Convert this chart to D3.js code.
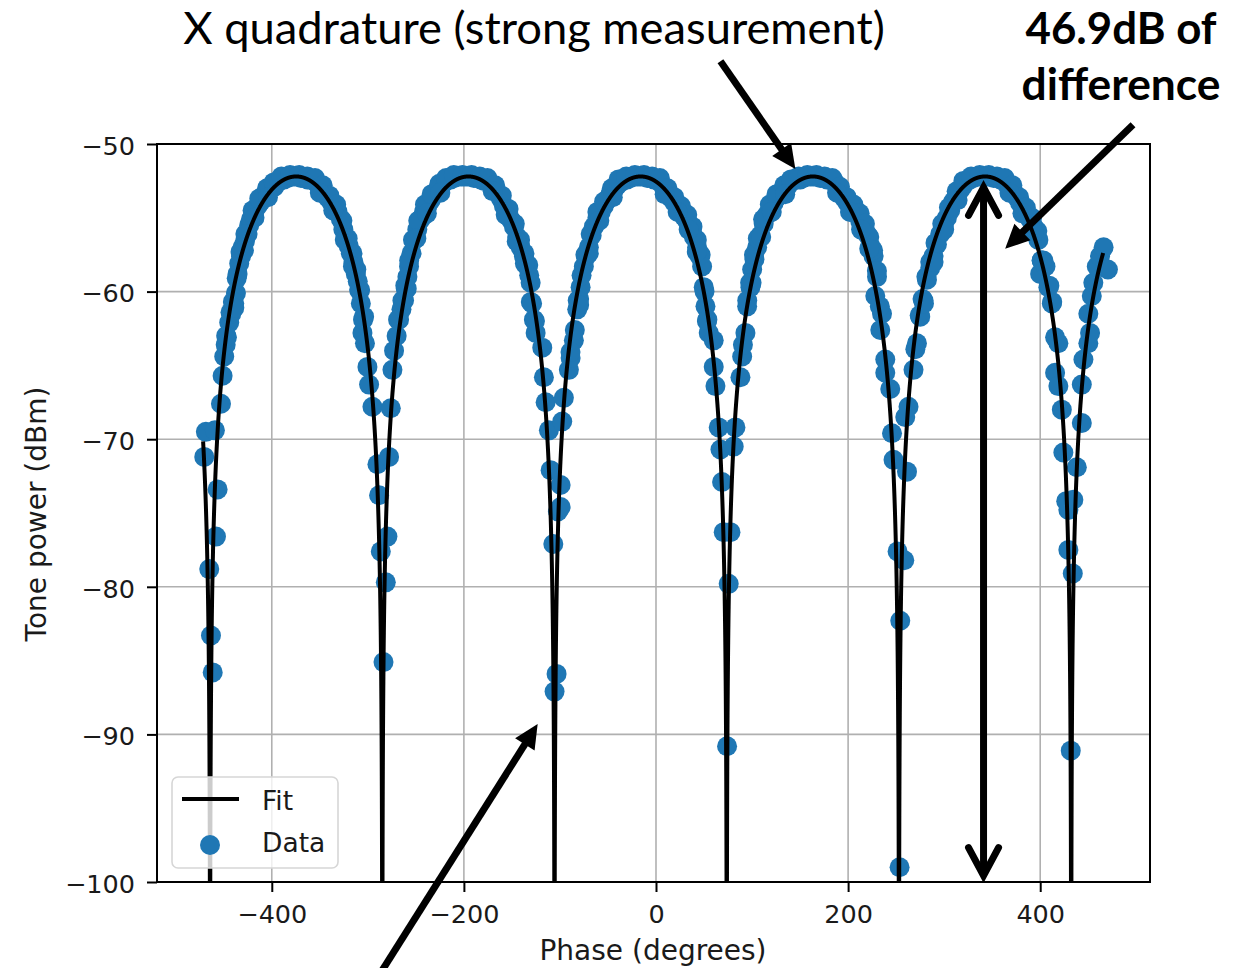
<!DOCTYPE html>
<html>
<head>
<meta charset="utf-8">
<script src="https://cdn.jsdelivr.net/npm/d3@7"></script>
<style>
  html, body { margin: 0; padding: 0; background: #ffffff; }
  svg { display: block; }
</style>
</head>
<body>
<svg id="chart" width="1253" height="968"></svg>
<script>
// Measured tone power while sweeping the phase: [phase (degrees), power (dBm)]
const measured = [
  [-470.3, -71.2], [-468.6, -69.5],
  [-465.1, -78.8], [-463.3, -83.3], [-461.5, -85.8], [-459.2, -69.4], [-458.1, -76.6], [-456.4, -73.4],
  [-452.9, -67.6], [-451.2, -65.7], [-449.5, -64.4], [-448.0, -63.6], [-446.7, -63.1], [-444.3, -62.1],
  [-442.2, -61.5], [-439.1, -60.8], [-437.3, -60.1], [-435.6, -58.8], [-433.9, -58.1], [-432.0, -57.6],
  [-430.4, -57.0], [-428.0, -56.6], [-425.2, -56.1], [-423.5, -55.5], [-421.7, -55.1], [-418.5, -54.7],
  [-414.8, -54.2], [-411.5, -53.9], [-407.9, -53.6], [-404.5, -53.3], [-401.0, -53.0], [-397.5, -52.9],
  [-394.0, -52.6], [-390.5, -52.4], [-387.1, -52.4], [-383.5, -52.3], [-380.0, -52.2], [-376.7, -52.2],
  [-373.0, -52.2], [-369.5, -52.3], [-366.0, -52.3], [-362.8, -52.4], [-359.5, -52.4], [-356.0, -52.5],
  [-352.4, -52.7], [-349.0, -53.0], [-345.5, -53.3], [-342.0, -53.6], [-338.5, -53.9], [-335.1, -54.2],
  [-331.5, -54.6], [-328.1, -55.1], [-325.5, -55.8], [-322.9, -56.5], [-320.0, -56.9], [-317.7, -57.4],
  [-315.0, -58.0], [-312.5, -58.8], [-310.5, -59.3], [-309.1, -59.9], [-307.3, -60.8], [-303.9, -61.7],
  [-305.6, -62.8], [-303.0, -63.5], [-300.4, -65.1], [-298.7, -66.3], [-295.2, -67.8], [-290.0, -71.7],
  [-288.3, -73.8], [-286.5, -77.6], [-283.7, -85.1], [-281.3, -79.7], [-279.6, -76.6], [-277.9, -71.2],
  [-276.1, -67.9], [-274.4, -65.3], [-272.7, -64.0], [-270.0, -63.0], [-267.5, -61.9], [-265.0, -61.2],
  [-262.3, -60.6], [-260.5, -59.8], [-258.8, -59.0], [-257.1, -58.3], [-254.5, -57.4], [-251.9, -56.5],
  [-248.5, -55.8], [-244.9, -55.1], [-241.5, -54.6], [-238.0, -54.2], [-234.5, -53.8], [-231.0, -53.4],
  [-227.5, -53.1], [-224.1, -52.9], [-220.5, -52.6], [-217.0, -52.4], [-213.7, -52.4], [-210.0, -52.3],
  [-206.5, -52.2], [-203.0, -52.2], [-199.9, -52.2], [-196.5, -52.2], [-193.0, -52.2], [-189.5, -52.3],
  [-186.0, -52.3], [-182.5, -52.4], [-179.0, -52.5], [-175.5, -52.5], [-172.0, -52.7], [-168.7, -52.9],
  [-165.0, -53.3], [-161.5, -53.7], [-158.3, -54.2], [-155.0, -54.6], [-151.5, -55.1], [-147.9, -55.6],
  [-144.5, -56.3], [-140.9, -57.0], [-137.5, -57.6], [-134.0, -58.3], [-132.0, -58.9], [-130.5, -59.4],
  [-130.3, -60.7], [-127.1, -61.9], [-125.3, -62.8], [-118.4, -63.8], [-116.7, -65.8], [-114.9, -67.5],
  [-111.5, -69.4], [-109.7, -72.1], [-106.9, -77.1], [-105.6, -87.1], [-103.5, -85.9], [-102.1, -74.9],
  [-99.3, -73.1], [-99.3, -74.6], [-97.6, -68.8], [-95.9, -67.2], [-90.7, -65.3], [-88.9, -64.5],
  [-85.5, -63.3], [-82.0, -61.2], [-80.0, -60.5], [-78.5, -59.7], [-75.1, -58.3], [-72.5, -57.6],
  [-69.9, -57.0], [-67.0, -56.2], [-64.7, -55.6], [-61.0, -55.0], [-57.5, -54.6], [-54.3, -54.2],
  [-51.0, -53.8], [-47.5, -53.4], [-43.9, -53.1], [-40.5, -52.8], [-37.0, -52.6], [-33.5, -52.4],
  [-30.0, -52.4], [-26.5, -52.3], [-23.0, -52.2], [-19.5, -52.2], [-16.1, -52.2], [-12.5, -52.2],
  [-9.0, -52.3], [-5.5, -52.3], [-2.3, -52.4], [1.0, -52.4], [4.5, -52.6], [8.0, -52.9],
  [11.6, -53.3], [15.0, -53.6], [18.5, -53.9], [22.0, -54.2], [25.5, -54.5], [29.0, -54.9],
  [32.5, -55.2], [35.9, -55.6], [39.5, -56.3], [42.8, -57.0], [45.5, -57.6], [48.0, -58.3],
  [49.7, -59.7], [51.5, -61.0], [53.0, -62.0], [54.9, -62.8], [60.1, -63.3], [60.1, -65.1],
  [61.9, -66.4], [65.3, -69.2], [67.1, -70.7], [68.8, -72.9], [70.5, -76.3], [74.0, -90.8],
  [75.7, -79.8], [77.5, -76.3], [80.9, -70.5], [82.7, -69.2], [87.9, -65.8], [89.7, -64.4],
  [93.1, -62.8], [94.9, -61.0], [98.3, -59.7], [100.1, -58.5], [102.5, -57.8], [105.3, -57.0],
  [108.5, -56.2], [112.1, -55.4], [115.5, -54.8], [119.0, -54.4], [122.5, -54.0], [126.0, -53.6],
  [129.5, -53.3], [133.0, -53.1], [136.5, -52.9], [140.0, -52.6], [143.5, -52.4], [147.0, -52.4],
  [150.3, -52.4], [153.5, -52.3], [157.0, -52.2], [160.7, -52.2], [164.1, -52.2], [167.5, -52.2],
  [171.0, -52.3], [174.5, -52.3], [178.0, -52.4], [181.5, -52.4], [185.0, -52.5], [188.5, -52.9],
  [192.0, -53.3], [195.3, -53.6], [198.5, -53.9], [202.0, -54.2], [205.5, -54.4], [209.3, -54.7],
  [212.5, -55.2], [216.0, -55.6], [219.7, -56.1], [223.0, -56.9], [226.5, -57.6], [230.1, -59.0],
  [228.3, -60.3], [235.3, -61.5], [233.5, -62.6], [238.7, -64.6], [238.7, -65.5], [243.9, -66.6],
  [245.7, -69.6], [247.3, -71.4], [251.5, -77.6], [253.6, -99.0], [254.3, -82.3], [258.5, -78.2],
  [261.3, -72.2], [259.5, -68.5], [262.9, -67.8], [268.1, -65.3], [271.7, -63.5], [275.1, -61.7],
  [278.5, -60.6], [282.1, -59.2], [285.5, -58.4], [288.9, -57.6], [292.5, -56.8], [295.9, -56.1],
  [299.5, -55.5], [302.9, -55.0], [306.3, -54.5], [309.5, -53.9], [313.0, -53.5], [316.7, -53.1],
  [320.0, -52.8], [323.5, -52.5], [327.0, -52.4], [330.5, -52.3], [334.1, -52.2], [337.5, -52.2],
  [341.0, -52.2], [344.5, -52.2], [347.9, -52.2], [351.5, -52.3], [355.0, -52.3], [358.5, -52.4],
  [361.7, -52.4], [365.0, -52.7], [368.5, -52.9], [372.0, -53.2], [375.7, -53.6], [379.0, -54.0],
  [382.5, -54.4], [386.0, -54.7], [389.5, -55.1], [393.0, -55.6], [395.5, -56.0], [398.1, -56.5],
  [403.3, -57.9], [399.9, -58.8], [408.5, -59.7], [412.1, -60.8], [415.5, -63.1], [418.9, -63.5],
  [415.5, -65.5], [418.9, -66.4], [422.5, -68.0], [424.1, -70.9], [427.1, -74.2], [429.3, -74.8],
  [429.3, -77.5], [431.8, -91.1], [433.9, -79.1], [434.5, -74.1], [438.1, -71.9], [443.3, -68.9],
  [443.3, -66.3], [445.0, -64.6], [450.1, -63.5], [451.9, -62.8], [450.1, -61.5], [453.7, -60.3],
  [455.3, -59.4], [458.9, -58.3], [462.3, -57.6], [466.0, -57.0], [470.5, -58.5]
];

// Repeat-sweep points lying just either side of the main trace
const measuredRepeat = [
  [-447.5, -63.0], [-443.0, -61.4], [-440.5, -60.7], [-436.5, -59.1], [-432.5, -57.3], [-427.5, -56.1],
  [-420.0, -54.5], [-413.0, -53.7], [-405.0, -53.0], [-398.0, -52.6], [-390.0, -52.2], [-381.0, -52.1],
  [-371.5, -52.1], [-363.0, -52.2], [-355.0, -52.3], [-347.0, -52.8], [-340.0, -53.5], [-333.0, -54.1],
  [-326.5, -55.2], [-321.0, -56.4], [-316.0, -57.4], [-312.0, -58.5], [-308.0, -59.9], [-305.0, -61.9],
  [-439.0, -61.1], [-429.0, -57.2], [-418.0, -55.0], [-404.0, -53.6], [-350.0, -53.3], [-336.0, -54.5],
  [-324.0, -56.5], [-315.5, -58.3],
  [-268.5, -61.9], [-264.0, -60.6], [-261.0, -59.6], [-257.0, -57.9], [-253.0, -56.5], [-247.5, -55.2],
  [-240.5, -54.1], [-233.5, -53.4], [-225.5, -52.7], [-218.5, -52.3], [-210.5, -52.1], [-201.5, -52.1],
  [-192.0, -52.1], [-183.5, -52.2], [-175.5, -52.3], [-167.5, -52.8], [-160.5, -53.5], [-153.5, -54.4],
  [-147.0, -55.4], [-141.5, -56.5], [-137.0, -57.4], [-133.0, -58.2], [-129.0, -60.8], [-126.0, -62.0],
  [-259.5, -59.8], [-249.5, -56.4], [-238.5, -54.7], [-224.5, -53.3], [-170.0, -53.2], [-156.5, -54.8],
  [-145.0, -56.6], [-136.5, -58.1],
  [-89.0, -64.1], [-84.5, -62.6], [-81.5, -60.6], [-77.5, -58.9], [-73.5, -57.5], [-68.0, -56.1],
  [-61.0, -54.6], [-54.0, -53.9], [-46.0, -53.0], [-39.0, -52.4], [-31.0, -52.2], [-22.0, -52.1],
  [-12.5, -52.1], [-4.0, -52.2], [4.0, -52.3], [12.0, -53.0], [19.0, -53.6], [26.0, -54.2],
  [32.5, -54.8], [38.0, -55.6], [42.5, -56.5], [46.5, -57.5], [50.5, -60.0], [53.5, -61.9],
  [-80.0, -60.9], [-70.0, -57.4], [-59.0, -55.2], [-45.0, -53.6], [9.0, -53.4], [22.5, -54.6],
  [34.0, -55.8], [42.5, -57.3],
  [90.5, -63.6], [95.0, -60.6], [98.0, -59.4], [102.0, -57.5], [106.0, -56.4], [111.5, -55.1],
  [118.5, -54.1], [125.5, -53.4], [133.5, -52.8], [140.5, -52.4], [148.5, -52.2], [157.5, -52.1],
  [167.0, -52.1], [175.5, -52.2], [183.5, -52.3], [191.5, -52.9], [198.5, -53.6], [205.5, -54.1],
  [212.0, -54.7], [217.5, -55.4], [222.0, -56.3], [226.0, -57.2], [230.0, -58.6], [233.0, -61.0],
  [99.5, -59.4], [109.5, -56.3], [120.5, -54.6], [134.5, -53.4], [188.5, -53.3], [202.0, -54.6],
  [213.5, -55.8], [222.0, -57.1],
  [270.0, -63.9], [274.5, -61.6], [277.5, -60.5], [281.5, -59.0], [285.5, -58.0], [291.0, -56.7],
  [298.0, -55.4], [305.0, -54.3], [313.0, -53.2], [320.0, -52.5], [328.0, -52.2], [337.0, -52.1],
  [346.5, -52.1], [355.0, -52.2], [363.0, -52.3], [371.0, -52.8], [378.0, -53.6], [385.0, -54.3],
  [391.5, -55.0], [397.0, -55.9], [401.5, -57.9], [405.5, -58.3], [409.5, -59.6], [412.5, -60.7],
  [279.0, -60.8], [289.0, -58.0], [300.0, -55.8], [314.0, -53.8], [368.0, -53.3], [381.5, -54.7],
  [393.0, -56.0], [401.5, -57.9]
];

// Fitted model: power = peak + 20·log10|cos(π·(phase − peakPhase)/period)|
const fitPeakDbm = -52.2;
const fitPeriodDeg = 179.3;
const fitPeakPhase = -16.0;
const fitPhaseRange = [-471.5, 465.5];

const xTicks = [-400, -200, 0, 200, 400];
const yTicks = [-100, -90, -80, -70, -60, -50];
const legendLabels = ["Fit", "Data"];
const titleText = "X quadrature (strong measurement)";
const noteLines = ["46.9dB of", "difference"];

// Annotation arrows, in data units (phase, dBm)
const arrowPeak = { from: [67.1, -44.4], to: [145.1, -51.7] };
const arrowNote = { from: [496.6, -48.7], to: [363.5, -57.1] };
const arrowNull = { from: [-292.0, -106.7], to: [-123.2, -89.3] };
const spanPhase = 341.0;
const spanTopDbm = -52.8;
const spanDb = 46.9;

const svg = d3.select("#chart");
const W = 1253, H = 968;
const plot = { left: 157, right: 1150, top: 144, bottom: 882 };

const x = d3.scaleLinear().domain([-519.5, 514.3]).range([plot.left, plot.right]);
const y = d3.scaleLinear().domain([-100, -50]).range([plot.bottom, plot.top]);

const tickFont = "'DejaVu Sans', sans-serif";
const tickSize = 25.5;
const labelSize = 28;
const blue = "#1f77b4";
const ink = "#1a1a1a";

svg.append("rect").attr("width", W).attr("height", H).attr("fill", "#ffffff");

svg.append("defs").append("clipPath").attr("id", "plotClip")
  .append("rect")
  .attr("x", plot.left).attr("y", plot.top)
  .attr("width", plot.right - plot.left).attr("height", plot.bottom - plot.top);

// grid
const grid = svg.append("g").attr("class", "grid");
grid.selectAll("line.gx").data(xTicks).join("line")
  .attr("x1", d => x(d)).attr("x2", d => x(d))
  .attr("y1", plot.top).attr("y2", plot.bottom)
  .attr("stroke", "#b0b0b0").attr("stroke-width", 1.6);
grid.selectAll("line.gy").data(yTicks).join("line")
  .attr("x1", plot.left).attr("x2", plot.right)
  .attr("y1", d => y(d)).attr("y2", d => y(d))
  .attr("stroke", "#b0b0b0").attr("stroke-width", 1.6);

const inner = svg.append("g").attr("clip-path", "url(#plotClip)");

// data points
inner.append("g").selectAll("circle").data(measured.concat(measuredRepeat)).join("circle")
  .attr("cx", d => x(d[0])).attr("cy", d => y(d[1]))
  .attr("r", 10).attr("fill", blue);

// fit curve, sampled finely so the nulls reach below the axis
function fitValue(p) {
  const c = Math.abs(Math.cos(Math.PI * (p - fitPeakPhase) / fitPeriodDeg));
  return c < 1e-7 ? -140 : Math.max(-140, fitPeakDbm + 20 * Math.log10(c));
}
const fitPts = [];
for (let p = fitPhaseRange[0]; p <= fitPhaseRange[1]; p += 0.02) fitPts.push([p, fitValue(p)]);
for (let k = -3; k <= 3; k++) {
  const pn = fitPeakPhase + fitPeriodDeg * (k + 0.5);
  if (pn > fitPhaseRange[0] && pn < fitPhaseRange[1]) fitPts.push([pn, -140]);
}
fitPts.sort((a, b) => a[0] - b[0]);
inner.append("path")
  .datum(fitPts)
  .attr("d", d3.line().x(d => x(d[0])).y(d => y(d[1])))
  .attr("fill", "none").attr("stroke", "#000").attr("stroke-width", 4)
  .attr("stroke-linejoin", "round");

// frame
svg.append("rect")
  .attr("x", plot.left).attr("y", plot.top)
  .attr("width", plot.right - plot.left).attr("height", plot.bottom - plot.top)
  .attr("fill", "none").attr("stroke", "#000").attr("stroke-width", 2);

// axes
const xAxis = svg.append("g").attr("transform", `translate(0,${plot.bottom})`)
  .call(d3.axisBottom(x).tickValues(xTicks).tickSize(10).tickPadding(6).tickSizeOuter(0));
const yAxis = svg.append("g").attr("transform", `translate(${plot.left},0)`)
  .call(d3.axisLeft(y).tickValues(yTicks).tickSize(10).tickPadding(12).tickSizeOuter(0));
[xAxis, yAxis].forEach(g => {
  g.select(".domain").remove();
  g.selectAll(".tick line").attr("stroke", "#000").attr("stroke-width", 2);
  g.selectAll(".tick text").attr("fill", ink).style("font-family", tickFont).style("font-size", tickSize + "px");
});
xAxis.selectAll(".tick text").attr("y", 41).attr("dy", 0);
yAxis.selectAll(".tick text").attr("dy", "0.4em");

// axis titles
svg.append("text").text("Phase (degrees)")
  .attr("x", 653).attr("y", 960).attr("text-anchor", "middle")
  .attr("fill", ink).style("font-family", tickFont).style("font-size", labelSize + "px");
svg.append("text").text("Tone power (dBm)")
  .attr("transform", "translate(46,514) rotate(-90)").attr("text-anchor", "middle")
  .attr("fill", ink).style("font-family", tickFont).style("font-size", labelSize + "px");

// legend
const lg = svg.append("g");
lg.append("rect").attr("x", 172).attr("y", 777).attr("width", 166).attr("height", 91)
  .attr("rx", 6).attr("fill", "#fff").attr("fill-opacity", 0.8)
  .attr("stroke", "#d6d6d6").attr("stroke-width", 1.6);
lg.append("line").attr("x1", 182).attr("x2", 239).attr("y1", 799).attr("y2", 799)
  .attr("stroke", "#000").attr("stroke-width", 4);
lg.append("circle").attr("cx", 210).attr("cy", 845).attr("r", 10).attr("fill", blue);
lg.selectAll("text").data(legendLabels).join("text")
  .text(d => d).attr("x", 262).attr("y", (d, i) => 810 + i * 42)
  .attr("fill", ink).style("font-family", tickFont).style("font-size", "26.5px");

// annotations
const annoFont = "Lato, 'Open Sans', sans-serif";
function fitWidth(sel, target) {
  const w = sel.node().getComputedTextLength();
  const fs = parseFloat(sel.style("font-size"));
  sel.style("font-size", (fs * target / w) + "px");
}
const title = svg.append("text").text(titleText)
  .attr("x", 534).attr("y", 44).attr("text-anchor", "middle")
  .attr("fill", "#000").style("font-family", annoFont).style("font-size", "40px");
fitWidth(title, 702);

const note = svg.append("g");
noteLines.forEach((t, i) => {
  const tx = note.append("text").text(t)
    .attr("x", 1121).attr("y", 44 + i * 56).attr("text-anchor", "middle")
    .attr("fill", "#000").style("font-family", annoFont).style("font-weight", 700)
    .style("font-size", "40px");
  fitWidth(tx, i === 0 ? 191 : 199);
});

const anno = svg.append("g");
function filledArrow(a) {
  const x0 = x(a.from[0]), y0 = y(a.from[1]), x1 = x(a.to[0]), y1 = y(a.to[1]);
  const len = Math.hypot(x1 - x0, y1 - y0), ux = (x1 - x0) / len, uy = (y1 - y0) / len;
  const L = 24, hw = 11.5;
  const bx = x1 - ux * L, by = y1 - uy * L;
  anno.append("line").attr("x1", x0).attr("y1", y0).attr("x2", bx + ux * 2).attr("y2", by + uy * 2)
    .attr("stroke", "#000").attr("stroke-width", 7);
  anno.append("path")
    .attr("d", `M${x1},${y1}L${bx - uy * hw},${by + ux * hw}L${bx + uy * hw},${by - ux * hw}Z`)
    .attr("fill", "#000");
}
filledArrow(arrowPeak);
filledArrow(arrowNote);
filledArrow(arrowNull);

// double-headed span arrow marking the peak-to-null difference
const sx = x(spanPhase), sTop = y(spanTopDbm), sBot = y(spanTopDbm - spanDb);
anno.append("line").attr("x1", sx).attr("x2", sx).attr("y1", sTop + 3).attr("y2", sBot - 3)
  .attr("stroke", "#000").attr("stroke-width", 7);
anno.append("path")
  .attr("d", `M${sx - 15},${sTop + 30}L${sx},${sTop + 2}L${sx + 15},${sTop + 30}`
    + `M${sx - 15},${sBot - 30}L${sx},${sBot - 2}L${sx + 15},${sBot - 30}`)
  .attr("fill", "none").attr("stroke", "#000").attr("stroke-width", 7)
  .attr("stroke-linecap", "round").attr("stroke-linejoin", "miter");
</script>
</body>
</html>
